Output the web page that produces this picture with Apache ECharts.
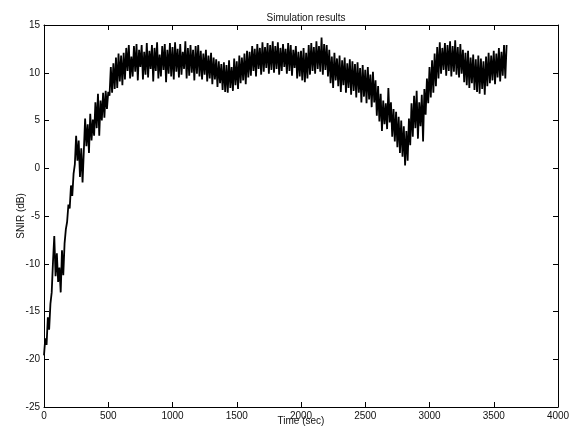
<!DOCTYPE html>
<html>
<head>
<meta charset="utf-8">
<title>Simulation results</title>
<script src="https://cdn.jsdelivr.net/npm/echarts@6/dist/echarts.min.js"></script>
<style>
  html, body { margin: 0; padding: 0; background: #fff; }
  #chart { width: 574px; height: 428px; }
</style>
</head>
<body>
<div id="chart"></div>
<script>
// SNIR trace, one sample every 10 s starting at t = 0
const sampleStep = 10
const snr = [
  -19.6, -17.8, -18.5, -15.6, -16.9, -14.2, -13.0, -9.8, -7.1, -11.3, -8.9, -11.9, -10.4, -13.0, -8.6, -11.2, -7.9, -6.4, -5.6, -3.8,
  -4.2, -1.8, -2.9, -0.6, 0.4, 3.4, 0.8, 2.9, -0.9, 2.1, -1.5, 1.8, 5.2, 2.3, 4.6, 1.6, 5.7, 2.9, 5.1, 3.4,
  6.9, 4.2, 7.8, 3.4, 7.1, 5.0, 7.9, 5.3, 8.1, 6.2, 8.0, 7.6, 10.6, 7.9, 11.0, 8.3, 11.6, 8.4, 12.0, 9.1,
  11.8, 8.7, 12.1, 9.3, 12.6, 10.2, 12.9, 9.4, 11.7, 9.6, 12.8, 10.1, 13.0, 9.2, 12.4, 10.6, 12.9, 9.3, 12.2, 9.8,
  13.1, 9.5, 12.3, 10.4, 12.9, 9.1, 12.6, 10.2, 13.2, 9.4, 11.9, 9.6, 12.8, 10.3, 13.0, 9.0, 12.4, 9.9, 13.1, 9.6,
  12.7, 9.3, 13.2, 10.1, 12.5, 9.5, 13.0, 9.8, 12.2, 10.4, 13.3, 9.4, 12.6, 9.7, 12.9, 10.0, 12.4, 9.2, 12.8, 9.9,
  12.9, 9.6, 12.3, 9.3, 12.0, 9.8, 12.4, 9.1, 11.8, 9.4, 12.1, 8.8, 11.6, 9.3, 11.4, 8.5, 11.2, 8.9, 10.9, 8.2,
  11.1, 8.0, 10.8, 7.9, 11.3, 8.4, 10.6, 8.1, 11.5, 8.7, 11.2, 8.3, 11.8, 8.9, 11.6, 9.2, 12.0, 8.8, 12.3, 9.5,
  12.2, 9.7, 12.8, 10.2, 12.5, 9.6, 13.0, 10.4, 12.6, 9.8, 13.2, 10.1, 12.7, 10.5, 13.1, 9.9, 12.9, 10.3, 13.3, 10.0,
  12.8, 10.4, 13.2, 9.8, 12.6, 10.2, 13.0, 10.6, 12.5, 9.9, 13.1, 10.2, 12.9, 9.7, 12.4, 10.5, 12.8, 9.4, 12.2, 9.6,
  12.3, 9.2, 12.6, 9.0, 12.1, 9.4, 12.9, 9.8, 13.1, 10.2, 12.7, 9.9, 13.3, 10.4, 12.8, 10.1, 13.7, 9.8, 13.0, 10.3,
  12.9, 9.6, 12.4, 8.9, 11.7, 8.4, 12.1, 9.2, 11.5, 8.6, 11.8, 8.0, 11.3, 8.7, 11.6, 7.9, 11.0, 8.4, 11.4, 7.7,
  11.2, 8.1, 10.9, 7.4, 11.1, 7.9, 10.5, 6.9, 10.8, 7.5, 10.3, 6.8, 10.6, 7.2, 9.8, 6.4, 10.1, 6.9, 9.2, 5.5,
  8.6, 4.9, 7.8, 3.9, 7.1, 4.6, 6.8, 4.1, 8.4, 4.8, 6.9, 3.3, 6.2, 2.8, 5.9, 2.2, 5.4, 1.6, 5.0, 1.2,
  4.4, 0.3, 3.9, 0.8, 5.2, 2.4, 6.8, 3.3, 7.6, 4.2, 8.1, 3.1, 6.9, 4.4, 7.7, 2.8, 8.3, 5.6, 9.4, 6.8,
  10.6, 7.4, 11.3, 7.9, 12.0, 8.6, 12.7, 9.4, 13.2, 9.9, 12.6, 10.3, 13.1, 9.7, 12.9, 10.2, 13.3, 9.6, 12.8, 10.1,
  13.4, 9.8, 12.7, 9.5, 13.0, 9.9, 12.4, 9.0, 12.1, 8.7, 12.3, 8.4, 11.6, 8.9, 11.9, 8.2, 11.4, 8.0, 11.8, 7.8,
  11.5, 8.3, 11.2, 7.7, 11.7, 8.6, 12.1, 8.9, 11.8, 9.2, 12.3, 8.8, 12.0, 9.5, 12.6, 9.1, 12.2, 9.7, 12.9, 9.4,
  12.9
]

const xTicks = ['0', '500', '1000', '1500', '2000', '2500', '3000', '3500', '4000']
const yTicks = ['-25', '-20', '-15', '-10', '-5', '0', '5', '10', '15']

const font = 'Liberation Sans, Arial, sans-serif'
const ink = '#000'

const points = snr.map((v, i) => [i * sampleStep, v])

const boxAxis = {
  axisLine: { show: true, onZero: false, lineStyle: { color: ink, width: 1 } },
  axisTick: { show: true, inside: true, length: 5, lineStyle: { color: ink } },
  splitLine: { show: false },
  nameMoveOverlap: false
}

const xRange = {
  type: 'value',
  min: Number(xTicks[0]),
  max: Number(xTicks[xTicks.length - 1]),
  interval: Number(xTicks[1]) - Number(xTicks[0])
}
const yRange = {
  type: 'value',
  min: Number(yTicks[0]),
  max: Number(yTicks[yTicks.length - 1]),
  interval: Number(yTicks[1]) - Number(yTicks[0])
}

const labelStyle = { fontFamily: font, fontSize: 10, color: '#111' }

const chart = echarts.init(document.getElementById('chart'), null, { renderer: 'canvas' })

chart.setOption({
  animation: false,
  backgroundColor: '#fff',
  title: {
    text: 'Simulation results',
    left: 301,
    top: 8,
    textAlign: 'center',
    textStyle: { ...labelStyle, fontWeight: 'normal' }
  },
  grid: { left: 44, right: 16, top: 25, bottom: 21, outerBoundsMode: 'none' },
  xAxis: [{
    ...boxAxis,
    ...xRange,
    position: 'bottom',
    name: 'Time (sec)',
    nameLocation: 'middle',
    nameGap: 9,
    nameTextStyle: labelStyle,
    axisLabel: { ...labelStyle, margin: 4, formatter: v => String(v) }
  }, {
    ...boxAxis,
    ...xRange,
    position: 'top',
    axisLabel: { show: false }
  }],
  yAxis: [{
    ...boxAxis,
    ...yRange,
    position: 'left',
    name: 'SNIR (dB)',
    nameLocation: 'middle',
    nameGap: 18,
    nameTextStyle: labelStyle,
    axisLabel: { ...labelStyle, margin: 4, formatter: v => String(v) }
  }, {
    ...boxAxis,
    ...yRange,
    position: 'right',
    axisLabel: { show: false }
  }],
  series: [{
    type: 'line',
    data: points,
    showSymbol: false,
    symbol: 'none',
    lineStyle: { color: ink, width: 1.8 },
    silent: true
  }]
})
</script>
</body>
</html>
